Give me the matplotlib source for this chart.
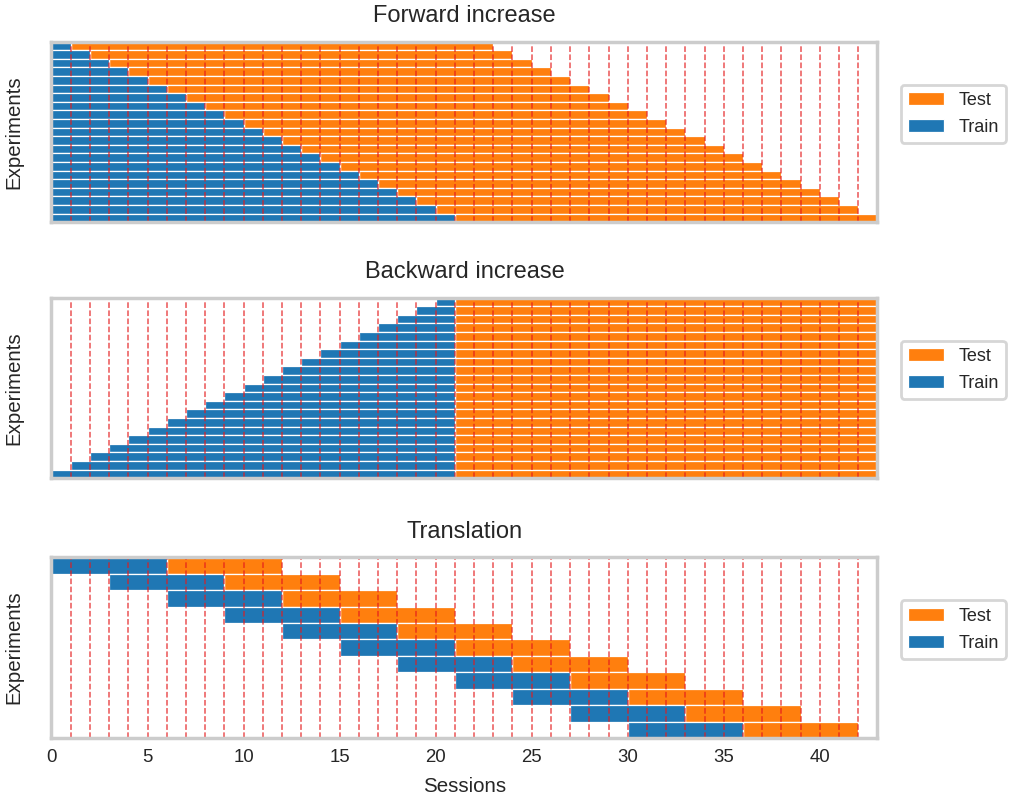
import matplotlib
matplotlib.use("Agg")
import matplotlib.pyplot as plt

plt.rcParams["font.family"] = ["Liberation Sans", "DejaVu Sans"]
plt.rcParams["text.color"] = ".15"
plt.rcParams["axes.labelcolor"] = ".15"
plt.rcParams["xtick.color"] = ".15"

# forward increase: train [start, end], test [train_end, test_end], top row first
fwd_train_start = [0, 0, 0, 0, 0, 0, 0, 0, 0, 0, 0, 0, 0, 0, 0, 0, 0, 0, 0, 0, 0]
fwd_train_end = [1, 2, 3, 4, 5, 6, 7, 8, 9, 10, 11, 12, 13, 14, 15, 16, 17, 18, 19, 20, 21]
fwd_test_end = [23, 24, 25, 26, 27, 28, 29, 30, 31, 32, 33, 34, 35, 36, 37, 38, 39, 40, 41, 42, 43]

# backward increase
bwd_train_start = [20, 19, 18, 17, 16, 15, 14, 13, 12, 11, 10, 9, 8, 7, 6, 5, 4, 3, 2, 1, 0]
bwd_train_end = [21] * 21
bwd_test_end = [43] * 21

# translation
tr_train_start = [0, 3, 6, 9, 12, 15, 18, 21, 24, 27, 30]
tr_train_end = [6, 9, 12, 15, 18, 21, 24, 27, 30, 33, 36]
tr_test_end = [12, 15, 18, 21, 24, 27, 30, 33, 36, 39, 42]

session_lines = list(range(1, 43))
x_ticks = [0, 5, 10, 15, 20, 25, 30, 35, 40]

panels = [
    ("Forward increase", fwd_train_start, fwd_train_end, fwd_test_end),
    ("Backward increase", bwd_train_start, bwd_train_end, bwd_test_end),
    ("Translation", tr_train_start, tr_train_end, tr_test_end),
]

fig = plt.figure(figsize=(10.13, 8.01), dpi=100)
left, width, height = 0.0508, 0.8154, 0.2255
bottoms = [0.7225, 0.4030, 0.0787]

for (title, t_start, t_end, s_end), bottom in zip(panels, bottoms):
    ax = fig.add_axes([left, bottom, width, height])
    n = len(t_start)
    ys = [n - 1 - i for i in range(n)]
    tr_w = [e - s for s, e in zip(t_start, t_end)]
    te_w = [e - s for s, e in zip(t_end, s_end)]
    ax.barh(ys, te_w, left=t_end, height=1.0, color="#ff7f0e",
            edgecolor="white", linewidth=0.9, label="Test")
    ax.barh(ys, tr_w, left=t_start, height=1.0, color="#1f77b4",
            edgecolor="white", linewidth=0.9, label="Train")
    for x in session_lines:
        ax.axvline(x, color="#e41a1c", linestyle="--", linewidth=1.1, alpha=0.75)
    ax.set_xlim(0, 43)
    ax.set_ylim(-0.5, n - 0.5)
    ax.set_yticks([])
    ax.set_xticks(x_ticks)
    ax.tick_params(axis="x", length=0, pad=8, labelsize=13.4)
    if bottom != bottoms[-1]:
        ax.set_xticklabels([])
    else:
        ax.set_xlabel("Sessions", fontsize=14.8, labelpad=8)
    ax.set_ylabel("Experiments", fontsize=14.8, labelpad=20)
    ax.set_title(title, fontsize=17, pad=14)
    for sp in ax.spines.values():
        sp.set_color("#cccccc")
        sp.set_linewidth(2.5)
    leg = ax.legend(loc="center left", bbox_to_anchor=(1.028, 0.6),
                    borderaxespad=0, fontsize=13, labelspacing=0.55,
                    fancybox=True)
    leg.get_frame().set_edgecolor("#cccccc")
    leg.get_frame().set_linewidth(2)

fig.savefig("out.png", dpi=100)
